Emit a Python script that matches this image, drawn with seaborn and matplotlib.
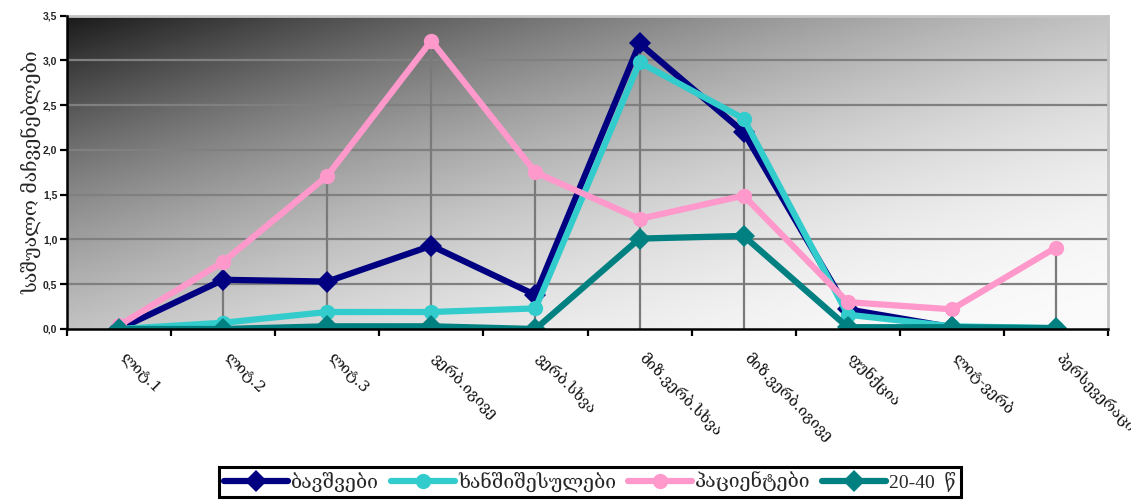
import numpy as np
import pandas as pd
import matplotlib
matplotlib.use("Agg")
import matplotlib.pyplot as plt
import matplotlib.transforms as mtransforms
from matplotlib.lines import Line2D
import seaborn as sns

# Error types (category axis)
categories = ["ლიტ.1", "ლიტ.2", "ლიტ.3", "ვერბ.იგივე", "ვერბ.სხვა",
              "მიზ.ვერბ.სხვა", "მიზ.ვერბ.იგივე", "ფუნქცია", "ლიტ-ვერბ",
              "პერსევერაცია"]

# Mean values per group
children = [0.00, 0.55, 0.53, 0.93, 0.38, 3.19, 2.20, 0.22, 0.02, 0.00]
elderly = [0.00, 0.07, 0.19, 0.19, 0.23, 2.98, 2.35, 0.16, 0.03, 0.01]
patients = [0.04, 0.75, 1.71, 3.22, 1.75, 1.23, 1.49, 0.30, 0.22, 0.91]
adults = [0.00, 0.00, 0.03, 0.03, 0.00, 1.01, 1.04, 0.02, 0.02, 0.01]

series_names = ["ბავშვები", "ხანშიშესულები", "პაციენტები", "20-40  წ"]
series_colors = ["#000080", "#33CCCC", "#FF99CC", "#008080"]
series_markers = ["D", "o", "o", "D"]

y_label = "საშუალო მაჩვენებლები"
y_ticks = [0.0, 0.5, 1.0, 1.5, 2.0, 2.5, 3.0, 3.5]

sns.set_theme(style="white")
plt.rcParams["font.family"] = ["DejaVu Serif"]

W, H = 1131, 504
fig = plt.figure(figsize=(W / 100, H / 100), dpi=100)
ax = fig.add_axes([67 / W, 1 - 329 / H, (1108 - 67) / W, (329 - 15.7) / H])

x = np.arange(len(categories))
df = pd.DataFrame({"pos": np.tile(x, 4),
                   "value": children + elderly + patients + adults,
                   "group": np.repeat(series_names, len(categories))})

# diagonal grey gradient background of the plot area
gx, gy = np.meshgrid(np.linspace(0, 1, 400), np.linspace(0, 1, 200))
t = (gx + gy) / 2.0
grey = 0.10 + 0.88 * (1 - (1 - t) ** 2)
ax.imshow(grey, cmap="gray", vmin=0, vmax=1, extent=[0, 1, 0, 1],
          transform=ax.transAxes, aspect="auto", zorder=0,
          interpolation="bilinear", origin="upper")

# horizontal gridlines
for v in y_ticks[1:-1]:
    ax.axhline(v, color="#808080", lw=1.6, zorder=1)

# drop lines from the highest series value to the axis
stack = np.array([children, elderly, patients, adults])
ax.vlines(x, 0, stack.max(axis=0), color="#7a7a7a", lw=1.6, zorder=1)

sns.lineplot(data=df, x="pos", y="value", hue="group", style="group",
             hue_order=series_names, style_order=series_names,
             palette=dict(zip(series_names, series_colors)),
             markers=dict(zip(series_names, series_markers)),
             dashes=False, sort=False, linewidth=4.5, markersize=11,
             markeredgewidth=0, legend=False, ax=ax, zorder=3)

ax.set_xlim(-0.5, len(categories) - 0.5)
ax.set_ylim(0, 3.5)

# axes frame
for side in ["left", "bottom"]:
    ax.spines[side].set_color("black")
    ax.spines[side].set_linewidth(1.8)
    ax.spines[side].set_zorder(4)
for side in ["top", "right"]:
    ax.spines[side].set_color("#c4c4c4")
    ax.spines[side].set_linewidth(2.0)

ax.set_yticks(y_ticks)
ax.set_yticklabels([f"{v:.1f}".replace(".", ",") for v in y_ticks],
                   fontfamily="Liberation Sans", fontweight="bold", fontsize=7.5)
ax.tick_params(axis="y", which="major", direction="out", length=5, width=1.6,
               color="black", pad=2, left=True)

ax.set_xticks(x)
ax.set_xticklabels(categories, rotation=-45, ha="left", va="top",
                   rotation_mode="anchor", fontsize=11, color="#111111")
ax.tick_params(axis="x", which="major", length=0, pad=15)
shift = mtransforms.ScaledTranslation(0.08, 0, fig.dpi_scale_trans)
for lbl in ax.get_xticklabels():
    lbl.set_transform(lbl.get_transform() + shift)
ax.set_xticks(np.arange(-0.5, len(categories), 1.0), minor=True)
ax.tick_params(axis="x", which="minor", direction="out", length=5, width=1.6,
               color="black", bottom=True)
ax.set_xlabel("")
ax.set_ylabel(y_label, fontsize=14, labelpad=1)

handles = [Line2D([0], [0], color=c, lw=4.5, marker=m, markersize=11,
                  markeredgewidth=0)
           for c, m in zip(series_colors, series_markers)]
leg = fig.legend(handles, series_names, loc="center",
                 bbox_to_anchor=(590 / W, 1 - 482 / H), ncol=4,
                 frameon=True, fancybox=False, shadow=False,
                 edgecolor="black", framealpha=1, handlelength=3.3,
                 handletextpad=0.15, columnspacing=0.6, borderpad=0.25,
                 prop={"family": ["Liberation Serif", "DejaVu Serif"], "size": 14})
leg.get_frame().set_linewidth(2.2)

fig.savefig("out.png", dpi=100)
